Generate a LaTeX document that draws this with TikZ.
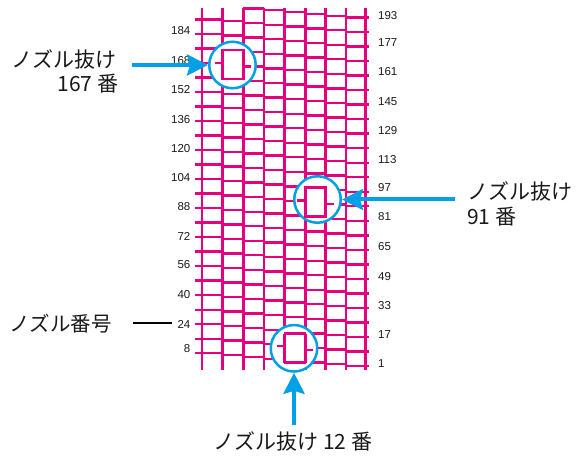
\documentclass[tikz,border=0pt]{standalone}
\usepackage{fontspec}
\setmainfont{Liberation Sans}
\newfontfamily\jpfont{Noto Sans CJK JP}
\usetikzlibrary{arrows.meta}
\definecolor{mag}{RGB}{230,0,126}
\definecolor{cya}{RGB}{0,160,233}
\def\nzx{{202,222.6,243.4,264,284.7,305.2,325.6,345.8,365.2}}
% #1 column, #2 nozzle, #3 vertical shift
\newcommand\nzbox[3]{%
  \pgfmathsetmacro\bxa{\nzx[#1]}%
  \pgfmathsetmacro\bxb{\nzx[#1+1]}%
  \pgfmathsetmacro\byt{366+#3-(#2+7)*1.815}%
  \pgfmathsetmacro\byb{366+#3-(#2-9)*1.815}%
  \pgfmathsetmacro\byl{366+#3-(#2)*1.815}%
  \pgfmathsetmacro\byr{366+#3-(#2-2)*1.815}%
  \draw[vline] (\bxa,\byt) -- (\bxa,\byb);
  \draw[vline] (\bxb,\byt) -- (\bxb,\byb);
  \draw[hline] (\bxa-1.2,\byt) -- (\bxb+1.2,\byt);
  \draw[hline] (\bxa-1.2,\byb) -- (\bxb+1.2,\byb);
  \draw[hline] (\bxa-8,\byl) -- (\bxa,\byl);
  \draw[hline] (\bxb,\byr) -- (\bxb+8,\byr);
}
\begin{document}
\begin{tikzpicture}[x=1pt,y=-1pt,
  vline/.style={draw=mag, line width=2.6pt},
  hline/.style={draw=mag, line width=2.4pt},
  miss/.style={circle, draw=cya, fill=white, line width=2.5pt, minimum size=46.5pt, inner sep=0pt},
  arrowsty/.style={draw=cya, line width=4pt, -{Stealth[length=21pt,width=21pt,inset=3pt]}},
  numl/.style={anchor=east, inner sep=0pt, font=\fontsize{11.5}{13}\selectfont, text=black!90},
  numr/.style={anchor=west, inner sep=0pt, font=\fontsize{11.5}{13}\selectfont, text=black!90},
  jlab/.style={inner sep=0pt, font=\jpfont\fontsize{21}{24}\selectfont, text=black!90}]
\useasboundingbox (0,0) rectangle (581,457);
% vertical lines
\foreach \k in {0,...,8}{
  \pgfmathsetmacro\xx{\nzx[\k]}
  \draw[vline] (\xx,8) -- (\xx,370);
}
% horizontal nozzle lines
\foreach \c in {0,...,7}{
  \pgfmathsetmacro\xa{\nzx[\c]}
  \pgfmathsetmacro\xb{\nzx[\c+1]}
  \ifnum\c=0 \def\xa{195}\fi
  \ifnum\c=7 \def\xb{368.5}\fi
  \foreach \r in {0,...,24}{
    \pgfmathtruncatemacro\nz{8*\r+8-\c}
    \ifnum\nz<199
      \pgfmathsetmacro\yy{366-(\nz-1)*1.815}
      \draw[hline] (\xa,\yy) -- (\xb,\yy);
    \fi
  }
}
% left labels
\foreach \t/\yy in {184/31,168/61,152/90,136/120,120/149,104/178,88/207,72/236,56/265,40/295,24/324,8/349}{
  \node[numl] (l\t) at (190.5,\yy) {\t};
}
% right labels
\foreach \t/\yy in {193/16,177/43,161/72,145/102,129/131,113/160,97/188,81/217,65/247,49/277,33/306,17/335,1/364}{
  \node[numr] (r\t) at (378,\yy) {\t};
}
% missing nozzle circles
\node[miss] (c167) at (232.5,65) {};
\nzbox{1}{167}{0}
\node[miss] (c91) at (317.5,199.5) {};
\nzbox{5}{91}{-0.5}
\node[miss] (c12) at (294,348.3) {};
\nzbox{4}{12}{2}
% texts
\node[jlab, anchor=west] (t167a) at (11,59.5) {ノズル抜け};
\node[jlab, anchor=east] (t167b) at (118.5,83.5) {167 番};
\node[jlab, anchor=west] (t91a) at (467,191) {ノズル抜け};
\node[jlab, anchor=west] (t91b) at (467,217) {91 番};
\node[jlab] (t12) at (293,441) {ノズル抜け 12 番};
\node[jlab, anchor=west, font=\jpfont\fontsize{20.5}{24}\selectfont] (tno) at (9,324) {ノズル番号};
% arrows
\coordinate (s167) at (132,65);
\draw[arrowsty] (s167) -- (c167.west);
\coordinate (s91) at (455,199.5);
\draw[arrowsty] (s91) -- (c91.east);
\coordinate (s12) at (294,425);
\draw[arrowsty] (s12) -- (c12.south);
% nozzle number pointer
\coordinate (pA) at (133,323);
\coordinate (pB) at (172,323);
\draw[line width=2.6pt] (pA) -- (pB);
\end{tikzpicture}
\end{document}
